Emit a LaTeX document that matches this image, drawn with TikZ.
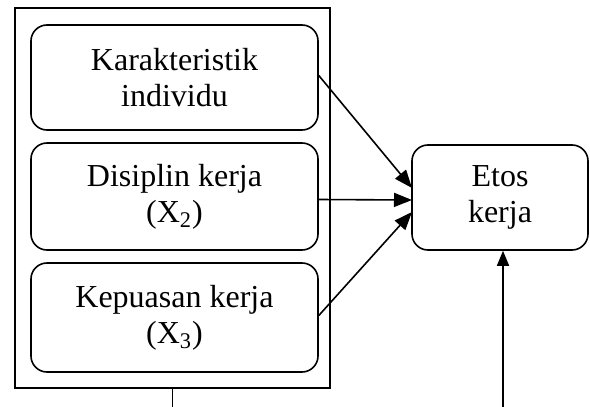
\documentclass[tikz,border=0pt]{standalone}
\usepackage{fontspec}
\setmainfont{Liberation Serif}
\usetikzlibrary{arrows.meta}
\begin{document}
\begin{tikzpicture}[x=0.5pt,y=-0.5pt,
  line width=0.8pt,
  varbox/.style={draw,rounded corners=8pt,minimum width=143.5pt,align=center,
    font=\fontsize{16}{18}\selectfont,inner sep=0pt},
  arr/.style={-{Triangle[length=9pt,width=7pt]}},
  arrs/.style={-{Triangle[length=7.5pt,width=6pt]}}]
\useasboundingbox (0,0) rectangle (590,407);
\node[draw,minimum width=157.5pt,minimum height=190pt,inner sep=0pt] (outer) at (172.5,198) {};
\node[varbox,minimum height=52.5pt] (b1) at (174.5,77.5) {Karakteristik\\individu};
\node[varbox,minimum height=53.5pt] (b2) at (174.5,196.5) {Disiplin kerja\\(X\textsubscript{2})};
\node[varbox,minimum height=54.5pt] (b3) at (174.5,317.5) {Kepuasan kerja\\(X\textsubscript{3})};
\node[varbox,minimum width=88pt,minimum height=52.5pt] (etos) at (500,197.5) {Etos\\kerja};
\coordinate (t1) at (412,188);
\coordinate (t2) at (412,200);
\coordinate (t3) at (412,212);
\coordinate (c1) at (172.5,407);
\coordinate (c2) at (503,407);
\draw[arr] ([yshift=1pt]b1.east) -- (t1);
\draw[arr] ([yshift=-1.5pt]b2.east) -- (t2);
\draw[arr] ([yshift=1pt]b3.east) -- (t3);
\draw (outer.south) -- (c1);
\draw[arrs] (c2) -- (c2 |- etos.south);
\end{tikzpicture}
\end{document}
